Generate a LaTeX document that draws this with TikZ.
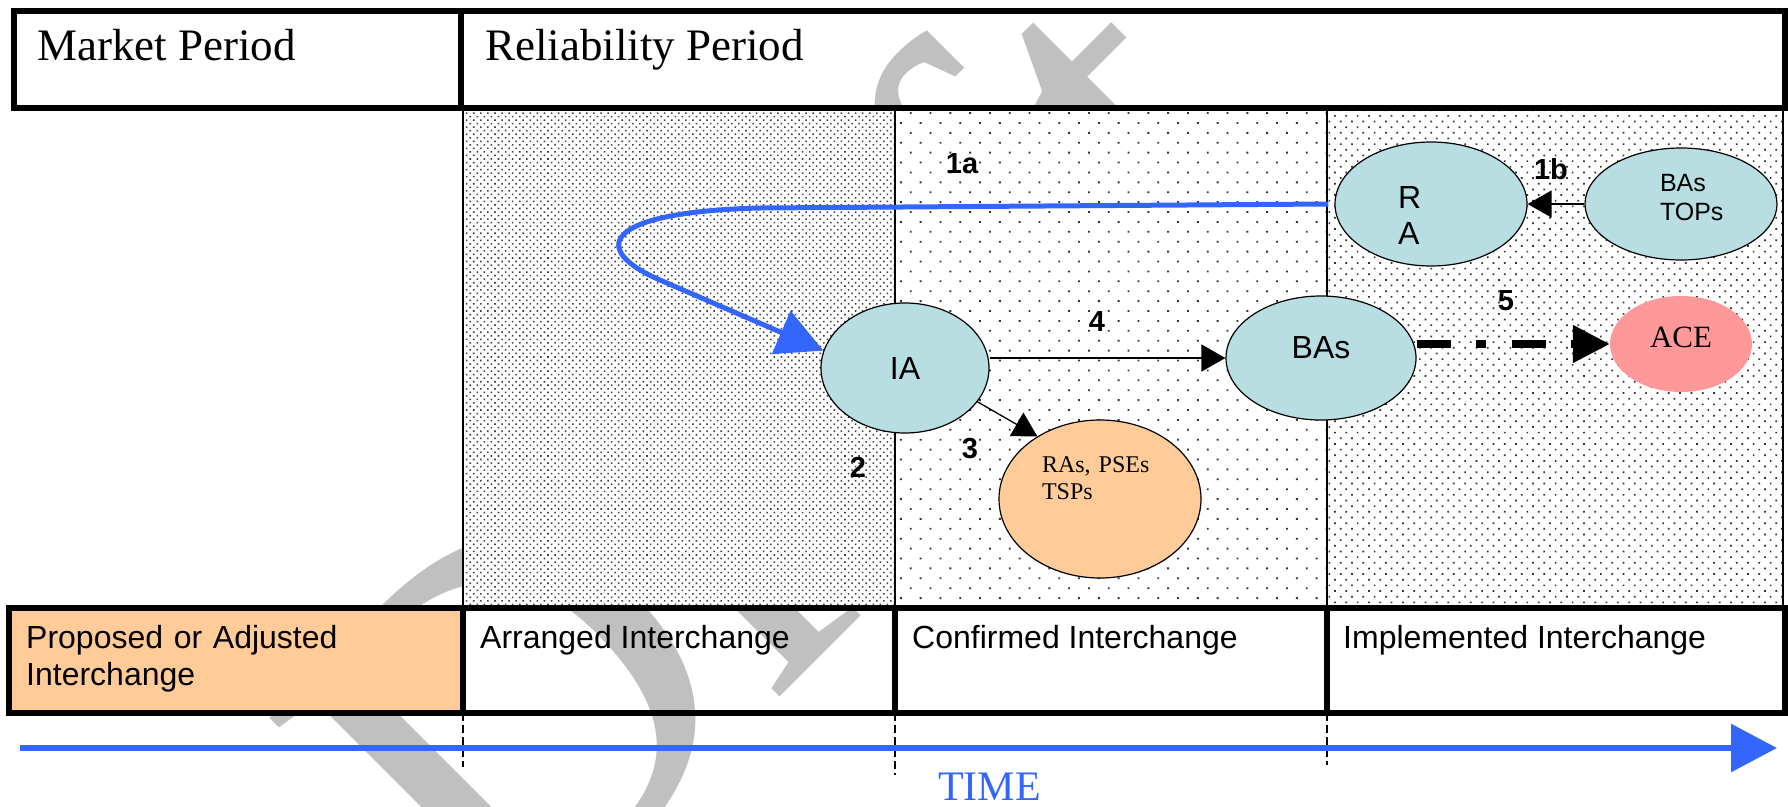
\documentclass[tikz,border=0pt]{standalone}
\usepackage{fontspec}
\setmainfont{Liberation Serif}
\setsansfont{Liberation Sans}
\usetikzlibrary{arrows.meta,patterns.meta,shapes.geometric}

\definecolor{nodeblue}{RGB}{184,222,226}
\definecolor{nodeorange}{RGB}{255,204,153}
\definecolor{nodepink}{RGB}{255,153,153}
\definecolor{timeblue}{RGB}{51,102,255}
\definecolor{stampgray}{RGB}{192,192,192}

\newcommand{\setsize}[2]{\fontsize{#1pt}{#2pt}\selectfont}

\tikzset{
  bubble/.style={ellipse, draw, line width=1.2pt, fill=nodeblue, inner sep=0pt, font=\sffamily\setsize{32}{36}},
  thinarrow/.style={line width=1.3pt, -{Triangle[length=24pt,width=27pt]}},
  dasharrow/.style={line width=8pt, dash pattern=on 34pt off 25pt on 10pt off 26pt, -{Triangle[length=37pt,width=36pt]}},
  curvearrow/.style={timeblue, line width=5pt, -{Triangle[length=46pt,width=46pt]}},
  steplabel/.style={font=\sffamily\bfseries\setsize{29}{32}, inner sep=0pt},
  period/.style={font=\setsize{45}{50}, anchor=base west, inner sep=0pt},
  phase/.style={font=\sffamily\setsize{32}{37}, anchor=base west, inner sep=0pt},
  frame/.style={line width=5.5pt},
  divider/.style={line width=1.3pt},
  guide/.style={line width=1.3pt, dash pattern=on 8pt off 4pt},
}

\begin{document}
\begin{tikzpicture}[x=1pt,y=-1pt]
\useasboundingbox (0,0) rectangle (1788,806);
\clip (0,0) rectangle (1788,806);

% draft stamp, under everything else
\node[rotate=45, anchor=base west, inner sep=0pt, text=stampgray, font=\setsize{528}{528}] (stamp) at (503,974) {Draft};

% dotted columns of the reliability period
\fill[white] (463,108) rectangle (1783,608);
\fill[pattern={Dots[distance=5pt,radius=1.1pt,angle=45]}, pattern color=black!75] (463,108) rectangle (895,608);
\fill[pattern={Dots[distance=14pt,radius=1.3pt,angle=45]}, pattern color=black!80] (895,108) rectangle (1327,608);
\fill[pattern={Dots[distance=8pt,radius=1.2pt,angle=45]}, pattern color=black!80] (1327,108) rectangle (1783,608);
\foreach \x in {463,895,1327,1783}
  \draw[divider] (\x,108) -- (\x,608);

% header row
\draw[frame] (14,11) rectangle (1785,108);
\draw[frame] (461,11) -- (461,108);
\node[period] (market) at (37,60) {Market Period};
\node[period] (reliab) at (485,60) {Reliability Period};

% interchange row
\fill[nodeorange] (9,608) rectangle (463,713);
\draw[frame] (9,608) rectangle (1785,713);
\foreach \x in {463,895,1327}
  \draw[frame] (\x,608) -- (\x,713);
\node[phase, text width=420pt] (proposed) at (26,648) {Proposed or Adjusted\\Interchange};
\node[phase] (arranged) at (480,648) {Arranged Interchange};
\node[phase] (confirmed) at (912,648) {Confirmed Interchange};
\node[phase] (implemented) at (1343,648) {Implemented Interchange};

% time axis
\draw[guide] (463,713) -- (463,767);
\draw[guide] (895,713) -- (895,775);
\draw[guide] (1327,713) -- (1327,765);
\coordinate (tstart) at (20,748);
\coordinate (tend) at (1777,748);
\draw[timeblue, line width=6pt, -{Triangle[length=46pt,width=47pt]}] (tstart) -- (tend);
\node[text=timeblue, font=\setsize{42}{48}, anchor=base west, inner sep=0pt] (time) at (938,800) {TIME};

% entities
\node[bubble, minimum width=168pt, minimum height=130pt] (ia) at (905,368) {IA};
\node[bubble, minimum width=190pt, minimum height=124pt, text depth=22pt] (bas) at (1321,358) {BAs};
\node[bubble, minimum width=192pt, minimum height=124pt, text width=66pt, align=left, text height=44pt] (ra) at (1431,204) {R\\A};
\node[bubble, minimum width=192pt, minimum height=112pt, text width=42pt, align=left, text depth=42pt, font=\sffamily\setsize{25}{29}] (tops) at (1681,204) {BAs\\TOPs};
\node[ellipse, fill=nodepink, inner sep=0pt, minimum width=142pt, minimum height=96pt, text depth=14pt, font=\setsize{31}{36}] (ace) at (1681,344) {ACE};
\node[ellipse, draw, line width=1.2pt, fill=nodeorange, inner sep=0pt, minimum width=202pt, minimum height=158pt, text width=116pt, align=left, text depth=68pt, font=\setsize{24}{27}] (rsp) at (1100,499) {RAs, PSEs\\TSPs};

% steps
\draw[curvearrow] ([xshift=-6pt]ra.west) -- (760,208) .. controls (600,212) and (590,250) .. (660,280) -- (ia.168);
\draw[thinarrow] (tops.west) -- (ra.east);
\draw[thinarrow] (bas.west -| ia.east) -- (bas.west);
\draw[thinarrow] (ia.-25) -- (rsp.135);
\draw[dasharrow] (bas.east |- ace.west) -- (ace.west);

\node[steplabel] (s1a) at (962,164) {1a};
\node[steplabel] (s1b) at (1551,169) {1b};
\node[steplabel] (s2) at (858,467) {2};
\node[steplabel] (s3) at (970,449) {3};
\node[steplabel] (s4) at (1097,322) {4};
\node[steplabel] (s5) at (1506,301) {5};
\end{tikzpicture}
\end{document}
